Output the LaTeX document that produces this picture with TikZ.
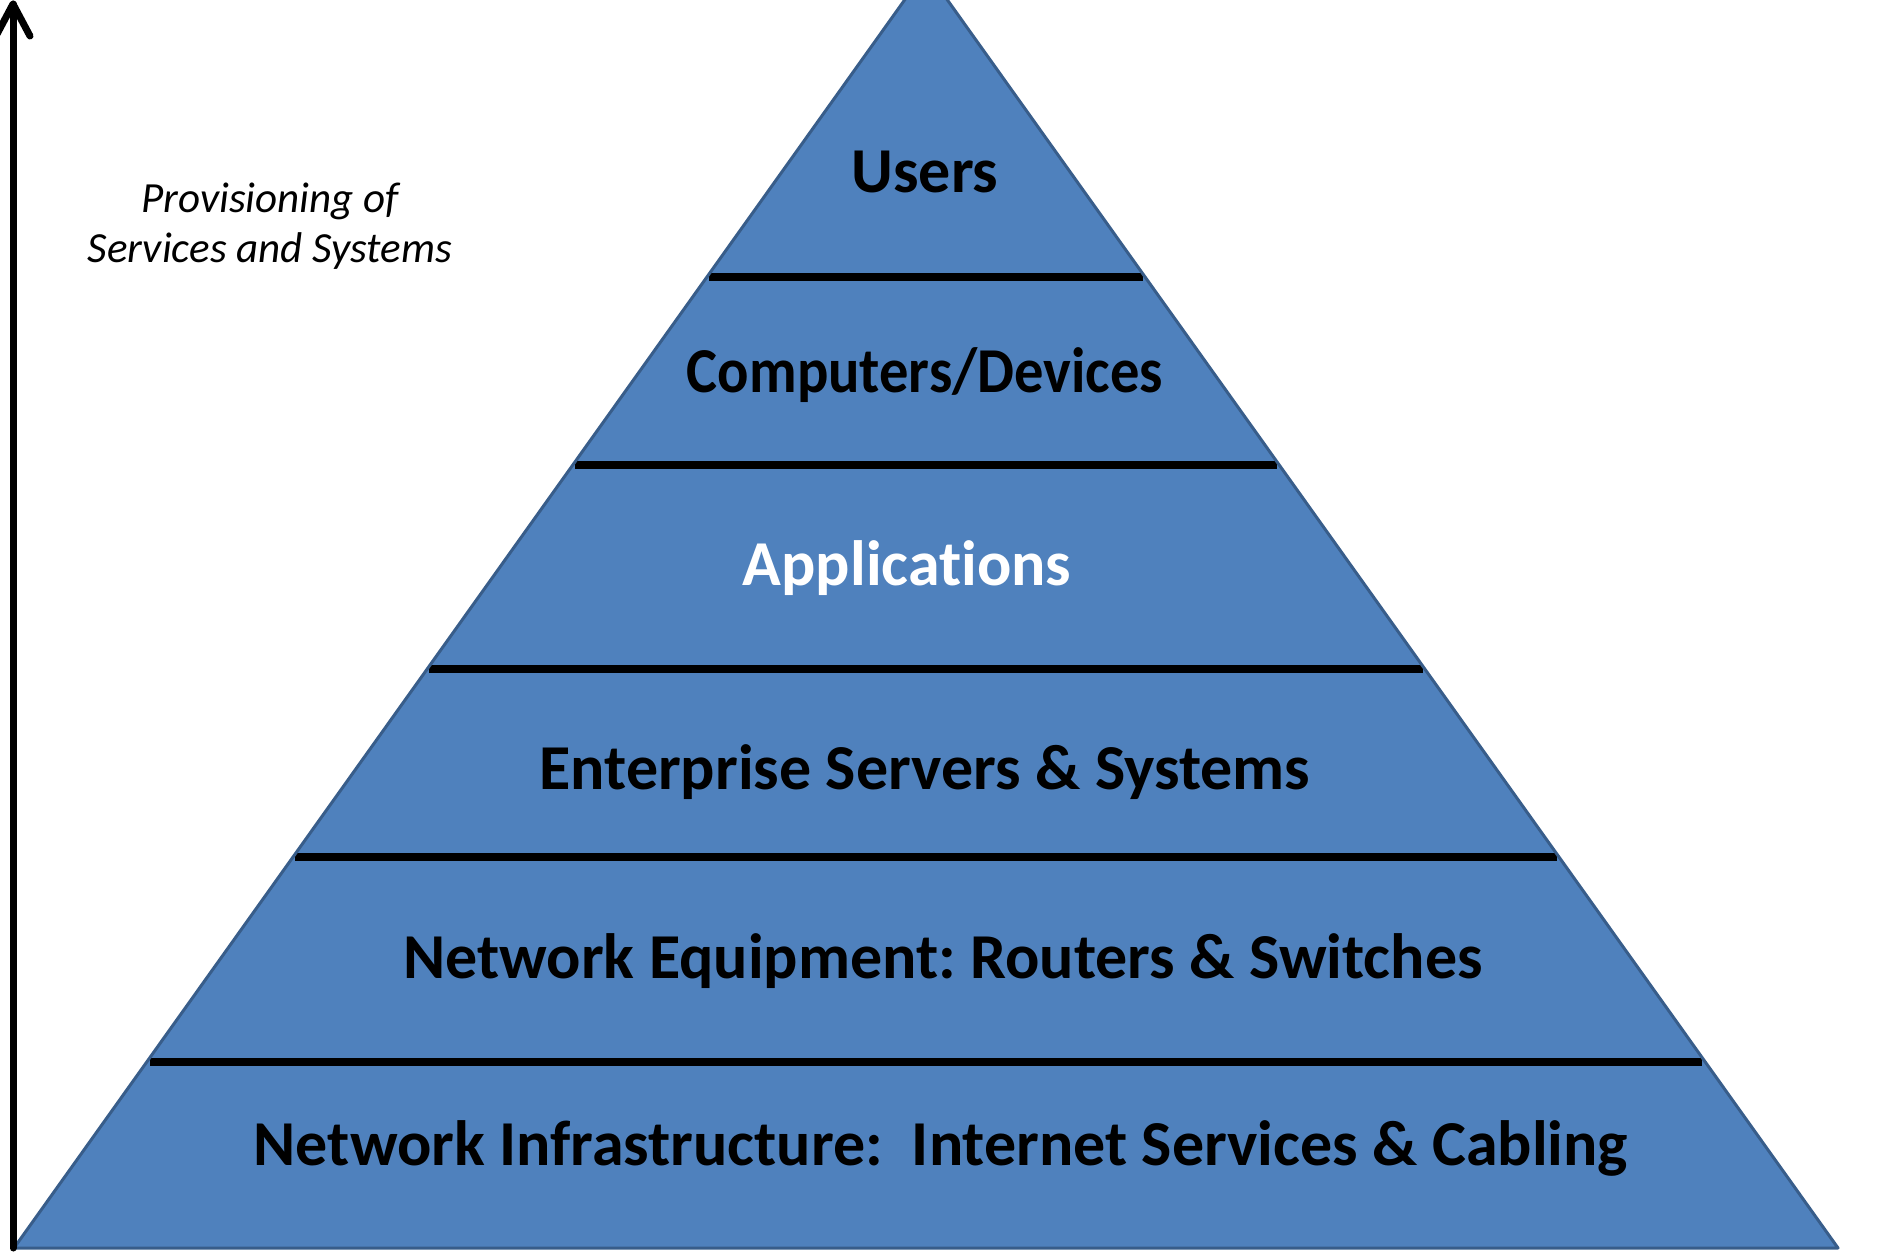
\documentclass[tikz,border=0pt]{standalone}
\usepackage{graphicx}
\usepackage{fontspec}
\setmainfont{Carlito}[Ligatures={NoCommon}]
\frenchspacing
\definecolor{pyrfill}{HTML}{4F81BD}
\definecolor{pyrline}{HTML}{385D8A}
\tikzset{
  layer/.style={font=\bfseries\fontsize{32pt}{36pt}\selectfont, text=black, anchor=base, inner sep=0pt},
  sepline/.style={draw=black, line width=4pt},
  axis/.style={draw=black, line width=3.5pt, line cap=round, line join=round},
  note/.style={font=\itshape\fontsize{21.5pt}{25pt}\selectfont, align=center, anchor=base, inner sep=0pt}
}
\begin{document}
\begin{tikzpicture}[x=0.5pt, y=-0.5pt]
\useasboundingbox (0,0) rectangle (1883,1253);
\clip (0,0) rectangle (1883,1253);
% pyramid
\coordinate (apex) at (926,-30);
\coordinate (bl) at (14,1248);
\coordinate (br) at (1838,1248);
\fill[pyrfill] (apex) -- (br) -- (bl) -- cycle;
% separators
\coordinate (s1l) at (709,277);  \coordinate (s1r) at (1143,277);
\coordinate (s2l) at (575,465);  \coordinate (s2r) at (1277,465);
\coordinate (s3l) at (429,669);  \coordinate (s3r) at (1423,669);
\coordinate (s4l) at (295,857);  \coordinate (s4r) at (1557,857);
\coordinate (s5l) at (150,1062); \coordinate (s5r) at (1702,1062);
\draw[sepline] (s1l) -- (s1r);
\draw[sepline] (s2l) -- (s2r);
\draw[sepline] (s3l) -- (s3r);
\draw[sepline] (s4l) -- (s4r);
\draw[sepline] (s5l) -- (s5r);
\draw[pyrline, line width=1.5pt, line join=round] (apex) -- (br) -- (bl) -- cycle;
% labels
\node[layer] (users) at (925,192) {Users};
\node[layer] (comp) at (925,392) {\scalebox{0.915}[1]{Computers/Devices}};
\node[layer, text=white] (apps) at (907,585) {Applications};
\node[layer] (ent) at (925,789) {Enterprise Servers \& Systems};
\node[layer] (neteq) at (943,978) {Network Equipment: Routers \& Switches};
\node[layer] (netinf) at (941,1165) {Network Infrastructure:\ \ Internet Services \& Cabling};
% axis arrow
\coordinate (abot) at (13,1248);
\coordinate (atop) at (13,4);
\coordinate (wl) at (-4,36);
\coordinate (wr) at (30,36);
\draw[axis] (abot) -- (atop);
\draw[axis] (wl) -- (atop) -- (wr);
\node[note] (prov1) at (270,212) {Provisioning of};
\node[note] (prov2) at (270,262) {Services and Systems};
\end{tikzpicture}
\end{document}
